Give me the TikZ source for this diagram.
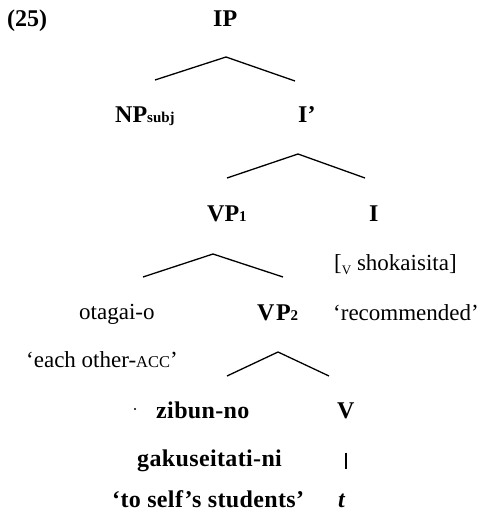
\documentclass[tikz,border=0pt]{standalone}
\usepackage{fontspec}
\setmainfont{Liberation Serif}
\newcommand\smallsub[1]{{\fontsize{15bp}{15bp}\selectfont #1}}
\newcommand\lowsub[1]{\raisebox{-4bp}{\fontsize{13bp}{13bp}\selectfont #1}}
\newcommand\fakesc[1]{{\fontsize{16.5bp}{17bp}\selectfont #1}}
\begin{document}
\begin{tikzpicture}[x=1bp,y=-1bp,
  lbl/.style={inner sep=0pt,anchor=base west,font=\fontsize{24bp}{28bp}\selectfont\bfseries},
  wide/.style={lbl,font=\fontsize{24bp}{28bp}\selectfont\bfseries\addfontfeatures{LetterSpace=1.5}},
  gl/.style={inner sep=0pt,anchor=base west,font=\fontsize{23bp}{28bp}\selectfont},
  br/.style={line width=1.3bp},
  bar/.style={line width=1.8bp}]
\useasboundingbox (0,0) rectangle (480,517);
% labels
\node[lbl] (ex) at (7,27) {(25)};
\node[lbl] (IP) at (213,27) {IP};
\node[lbl] (NP) at (115,123) {NP\smallsub{subj}};
\node[lbl] (Ibar) at (298,123) {I'};
\node[lbl] (VP1) at (207,221) {VP\smallsub{1}};
\node[lbl] (I) at (369,221) {I};
\node[gl] (shok) at (334,270) {[\lowsub{V} shokaisita]};
\node[gl] (otagai) at (79,319) {otagai-o};
\node[lbl] (VP2) at (257,320) {V\kern1.5bp P\smallsub{2}};
\node[gl] (recom) at (333,320) {`recommended'};
\node[gl] (each) at (26,367) {`each other-\fakesc{ACC}'};
\node[wide] (zibun) at (156,418) {zibun-no};
\node[lbl] (V) at (337,418) {V};
\node[wide] (gaku) at (137,466) {gakuseitati-ni};
\node[wide] (self) at (112,507) {`to self's students'};
\node[lbl,font=\fontsize{24bp}{28bp}\selectfont\bfseries\itshape] (t) at (338,507) {t};
% branch points
\coordinate (a1) at (226,57);  \coordinate (l1) at (155,80);  \coordinate (r1) at (295,81);
\coordinate (a2) at (298,154); \coordinate (l2) at (227,178); \coordinate (r2) at (365,178);
\coordinate (a3) at (213,254); \coordinate (l3) at (143,277); \coordinate (r3) at (283,277);
\coordinate (a4) at (278,352); \coordinate (l4) at (227,376); \coordinate (r4) at (329,376);
\draw[br] (l1) -- (a1) -- (r1);
\draw[br] (l2) -- (a2) -- (r2);
\draw[br] (l3) -- (a3) -- (r3);
\draw[br] (l4) -- (a4) -- (r4);
\draw[bar, shorten <=34bp, shorten >=24bp] (V.south) -- (V.south |- t.north);
\fill (135,409) circle (1.1bp);
\end{tikzpicture}
\end{document}
